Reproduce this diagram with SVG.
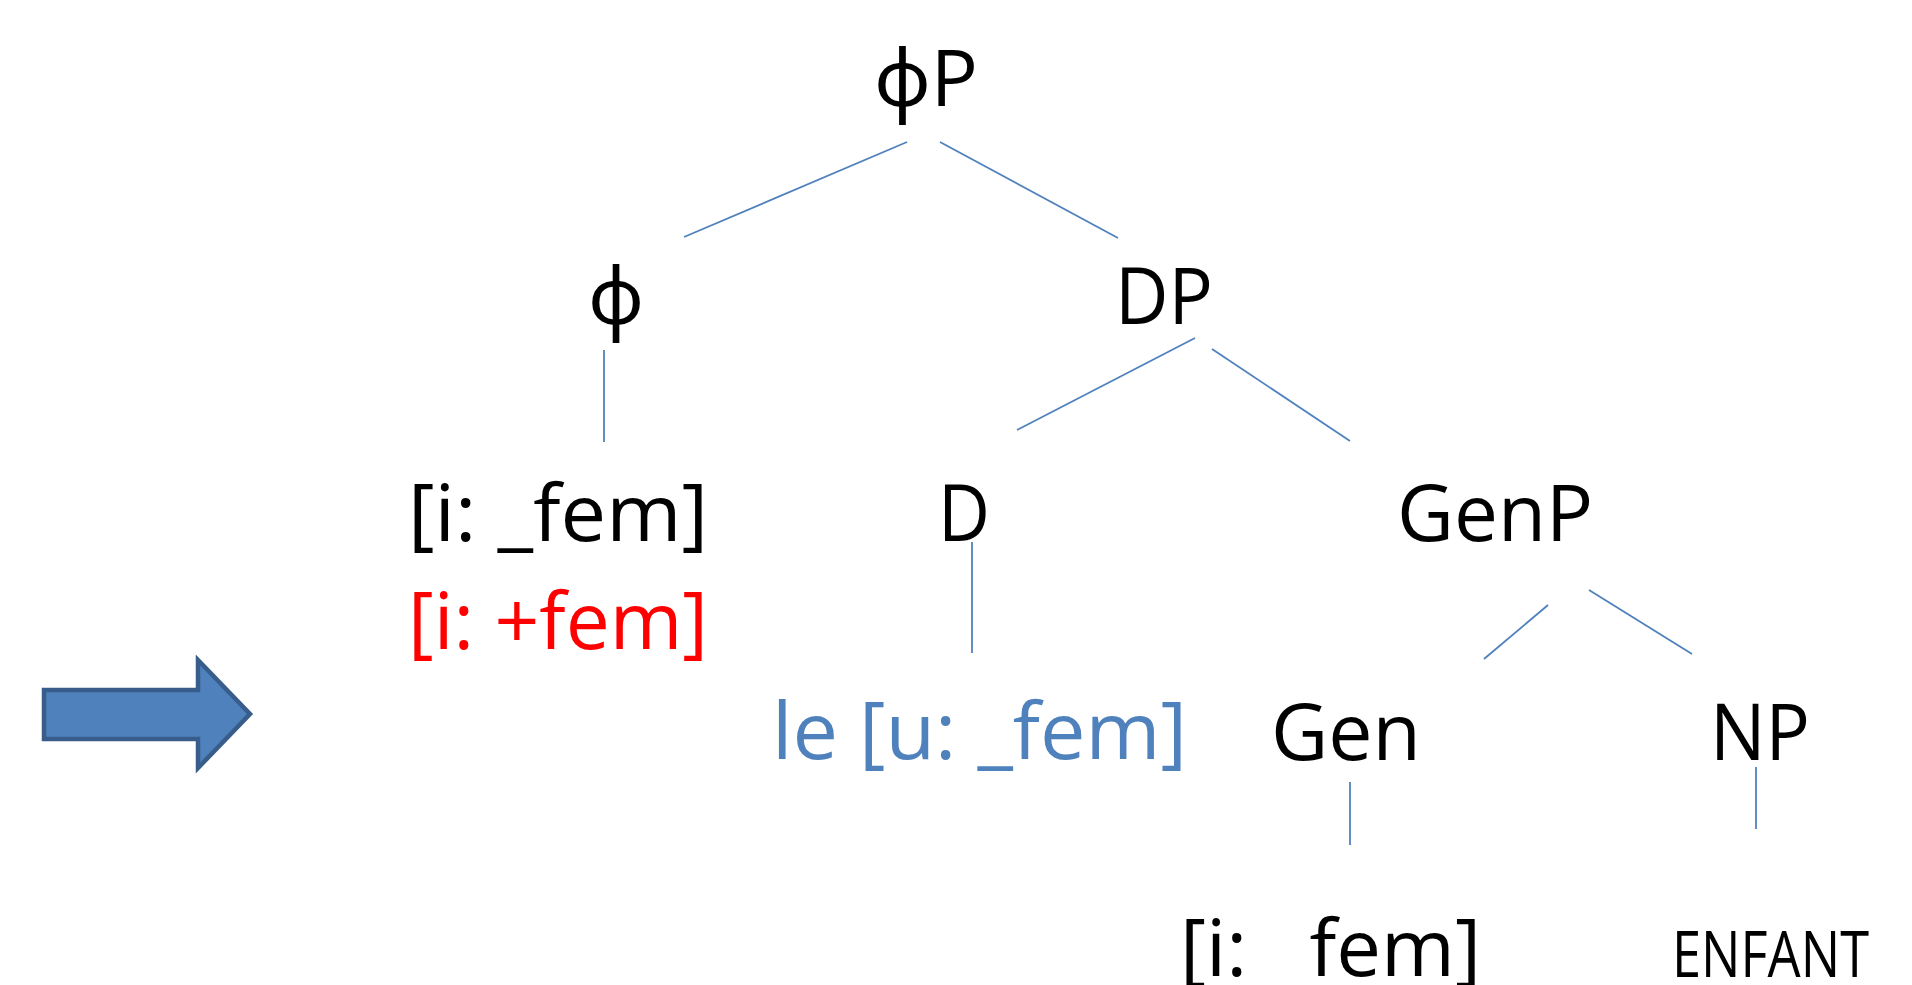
<svg xmlns="http://www.w3.org/2000/svg" width="1912" height="985" viewBox="0 0 1912 985">
<style>
  .t { font-family: "Open Sans", "Noto Sans", "DejaVu Sans", sans-serif; font-size: 78px; fill: #000; white-space: pre; }
  .blue { fill: #4F81BD; }
  .red { fill: #FF0000; }
  .small { font-size: 64px; }
  .edge { stroke: #4F81BD; stroke-width: 1.8; fill: none; }
</style>
<rect width="1912" height="985" fill="#fff"/>
<g id="connectors">
  <line class="edge" x1="907" y1="142" x2="684" y2="237"/>
  <line class="edge" x1="940" y1="142" x2="1118" y2="238"/>
  <line class="edge" x1="604" y1="350" x2="604" y2="442"/>
  <line class="edge" x1="1195" y1="338" x2="1017" y2="430"/>
  <line class="edge" x1="1212" y1="349" x2="1350" y2="441"/>
  <line class="edge" x1="972" y1="542" x2="972" y2="653"/>
  <line class="edge" x1="1548" y1="605" x2="1484" y2="659"/>
  <line class="edge" x1="1589" y1="590" x2="1692" y2="654"/>
  <line class="edge" x1="1350" y1="782" x2="1350" y2="845"/>
  <line class="edge" x1="1756" y1="767" x2="1756" y2="829"/>
</g>
<g id="arrow">
  <polygon points="44,690 198,690 198,660 250,714 198,768 198,739 44,739" fill="#4F81BD" stroke="#385D8A" stroke-width="4.5" stroke-linejoin="miter"/>
</g>
<g id="node-phiP"><text class="t" x="874" y="106" textLength="104" lengthAdjust="spacingAndGlyphs">ϕP</text></g>
<g id="node-phi"><text class="t" x="588" y="324" textLength="56" lengthAdjust="spacingAndGlyphs">ϕ</text></g>
<g id="node-DP"><text class="t" x="1115" y="324" textLength="98" lengthAdjust="spacingAndGlyphs">DP</text></g>
<g id="node-ifem">
  <text class="t" x="408" y="541" textLength="300" lengthAdjust="spacingAndGlyphs">[i: _fem]</text>
  <text class="t red" x="408" y="649" textLength="300" lengthAdjust="spacingAndGlyphs">[i: +fem]</text>
</g>
<g id="node-D"><text class="t" x="938" y="541" textLength="52" lengthAdjust="spacingAndGlyphs">D</text></g>
<g id="node-GenP"><text class="t" x="1397" y="541" textLength="196" lengthAdjust="spacingAndGlyphs">GenP</text></g>
<g id="node-le"><text class="t blue" x="772" y="759" textLength="415" lengthAdjust="spacingAndGlyphs">le [u: _fem]</text></g>
<g id="node-Gen"><text class="t" x="1271" y="760" textLength="150" lengthAdjust="spacingAndGlyphs">Gen</text></g>
<g id="node-NP"><text class="t" x="1710" y="760" textLength="100" lengthAdjust="spacingAndGlyphs">NP</text></g>
<g id="node-ifem2"><text class="t" x="1180" y="976" textLength="301" lengthAdjust="spacingAndGlyphs">[i:   fem]</text></g>
<g id="node-ENFANT"><text class="t small" x="1672" y="977" textLength="197" lengthAdjust="spacingAndGlyphs">ENFANT</text></g>
</svg>
